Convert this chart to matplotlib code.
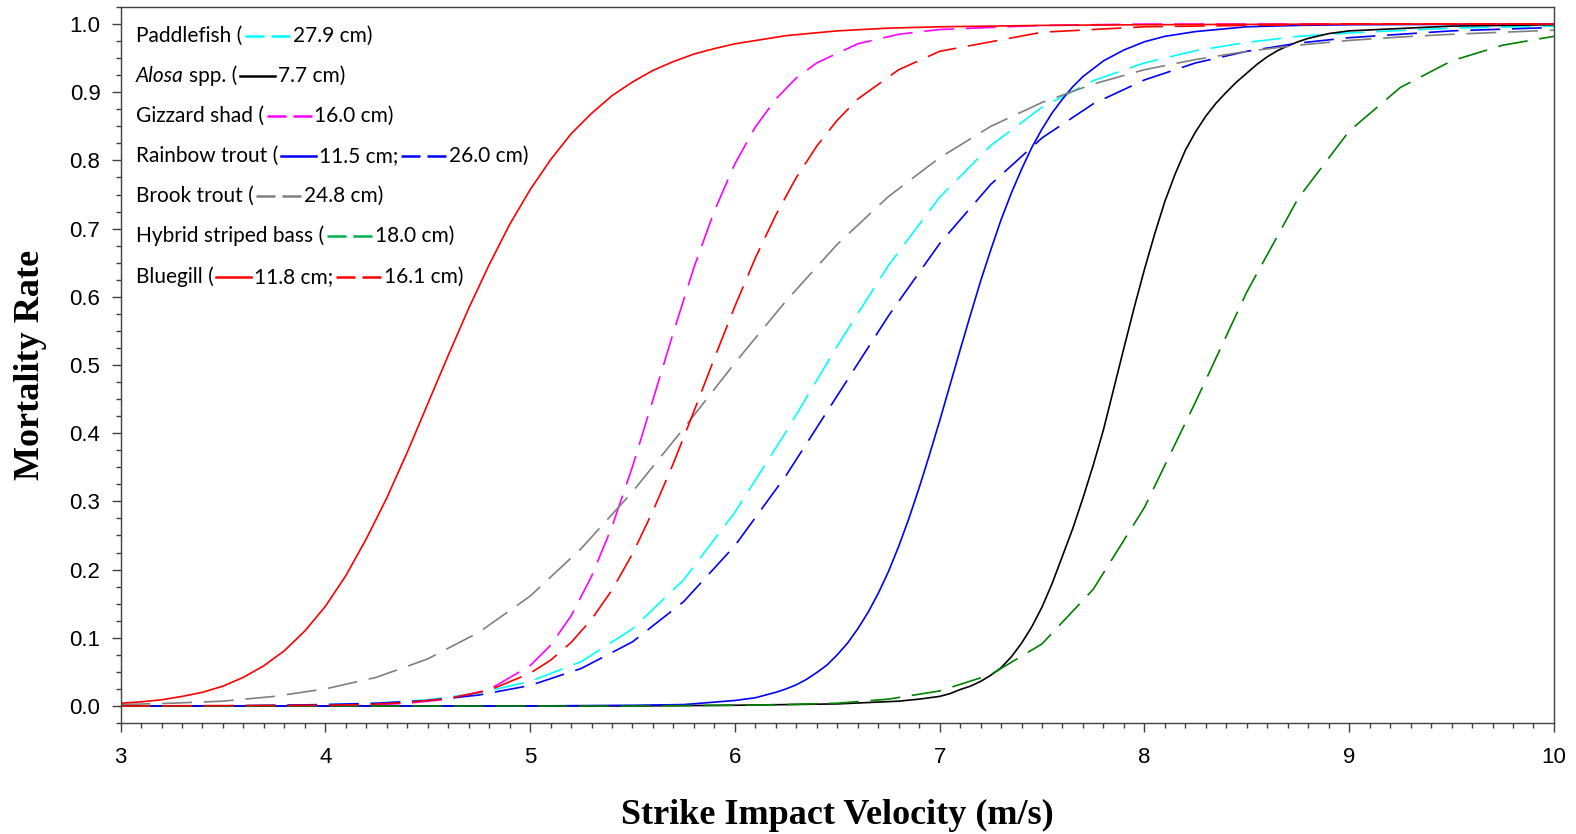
import matplotlib.pyplot as plt
from matplotlib.ticker import MultipleLocator, FormatStrFormatter
from matplotlib.offsetbox import TextArea, DrawingArea, HPacker, VPacker, AnchoredOffsetbox
from matplotlib.lines import Line2D

# values (velocity in m/s, mortality rate)
paddlefish_x = [3.0, 3.5, 4.0, 4.25, 4.5, 4.75, 5.0, 5.25, 5.5, 5.75, 6.0, 6.25, 6.5, 6.75, 7.0, 7.25,
                7.5, 7.75, 8.0, 8.25, 8.5, 8.75, 9.0, 9.5, 10.0]
paddlefish_y = [0.000, 0.000, 0.002, 0.004, 0.009, 0.019, 0.036, 0.065, 0.113, 0.185, 0.284, 0.402,
                0.528, 0.646, 0.746, 0.822, 0.878, 0.917, 0.943, 0.961, 0.973, 0.982, 0.987, 0.994, 0.997]

alosa_x = [3.0, 5.5, 6.0, 6.5, 6.8, 6.9, 7.0, 7.05, 7.1, 7.15, 7.2, 7.25, 7.3, 7.35, 7.4, 7.45, 7.5,
           7.55, 7.6, 7.65, 7.7, 7.75, 7.8, 7.85, 7.9, 7.95, 8.0, 8.05, 8.1, 8.15, 8.2, 8.25, 8.3,
           8.35, 8.4, 8.45, 8.5, 8.55, 8.6, 8.65, 8.7, 8.75, 8.8, 8.9, 9.0, 9.5, 10.0]
alosa_y = [0.000, 0.000, 0.001, 0.003, 0.007, 0.010, 0.014, 0.018, 0.024, 0.029, 0.036, 0.045, 0.056,
           0.072, 0.092, 0.116, 0.145, 0.180, 0.220, 0.260, 0.305, 0.353, 0.405, 0.465, 0.525, 0.584,
           0.640, 0.692, 0.740, 0.780, 0.815, 0.842, 0.865, 0.884, 0.900, 0.915, 0.928, 0.941, 0.952,
           0.961, 0.968, 0.974, 0.979, 0.986, 0.990, 0.997, 0.999]

gizzard_x = [3.0, 4.0, 4.2, 4.4, 4.6, 4.8, 5.0, 5.1, 5.2, 5.3, 5.4, 5.5, 5.6, 5.7, 5.8, 5.9, 6.0, 6.1,
             6.2, 6.3, 6.4, 6.6, 6.8, 7.0, 7.5, 8.0, 9.0, 10.0]
gizzard_y = [0.000, 0.000, 0.001, 0.004, 0.010, 0.024, 0.059, 0.089, 0.132, 0.190, 0.263, 0.351, 0.449,
             0.548, 0.643, 0.726, 0.795, 0.849, 0.890, 0.921, 0.943, 0.971, 0.985, 0.992, 0.998, 1.000,
             1.000, 1.000]

rainbow_s_x = [3.0, 4.0, 5.0, 5.5, 5.75, 6.0, 6.05, 6.1, 6.15, 6.2, 6.25, 6.3, 6.35, 6.4, 6.45, 6.5,
               6.55, 6.6, 6.65, 6.7, 6.75, 6.8, 6.85, 6.9, 6.95, 7.0, 7.05, 7.1, 7.15, 7.2, 7.25, 7.3,
               7.35, 7.4, 7.45, 7.5, 7.55, 7.6, 7.65, 7.7, 7.8, 7.9, 8.0, 8.1, 8.25, 8.5, 8.75, 9.0,
               10.0]
rainbow_s_y = [0.000, 0.000, 0.000, 0.001, 0.002, 0.008, 0.010, 0.012, 0.016, 0.020, 0.025, 0.031,
               0.039, 0.049, 0.060, 0.075, 0.092, 0.113, 0.137, 0.165, 0.197, 0.234, 0.275, 0.320,
               0.368, 0.418, 0.470, 0.522, 0.573, 0.623, 0.669, 0.713, 0.752, 0.787, 0.819, 0.846,
               0.870, 0.890, 0.908, 0.923, 0.946, 0.962, 0.974, 0.982, 0.989, 0.996, 0.998, 0.999,
               1.000]

rainbow_d_x = [3.0, 3.5, 4.0, 4.25, 4.5, 4.75, 5.0, 5.25, 5.5, 5.75, 6.0, 6.25, 6.5, 6.75, 7.0, 7.25,
               7.5, 7.75, 8.0, 8.25, 8.5, 8.75, 9.0, 9.5, 10.0]
rainbow_d_y = [0.000, 0.000, 0.002, 0.004, 0.008, 0.016, 0.030, 0.055, 0.094, 0.153, 0.235, 0.338,
               0.455, 0.572, 0.678, 0.765, 0.833, 0.883, 0.918, 0.943, 0.960, 0.972, 0.980, 0.990, 0.995]

brook_x = [3.0, 3.25, 3.5, 3.75, 4.0, 4.25, 4.5, 4.75, 5.0, 5.25, 5.5, 5.75, 6.0, 6.25, 6.5, 6.75,
           7.0, 7.25, 7.5, 7.75, 8.0, 8.25, 8.5, 8.75, 9.0, 9.25, 9.5, 9.75, 10.0]
brook_y = [0.002, 0.004, 0.007, 0.014, 0.025, 0.042, 0.069, 0.108, 0.161, 0.231, 0.314, 0.407, 0.503,
           0.594, 0.677, 0.747, 0.804, 0.850, 0.885, 0.912, 0.933, 0.948, 0.960, 0.969, 0.976, 0.981,
           0.985, 0.988, 0.991]

hybrid_x = [3.0, 5.0, 5.5, 6.0, 6.25, 6.5, 6.75, 7.0, 7.25, 7.5, 7.75, 8.0, 8.25, 8.5, 8.75, 9.0,
            9.25, 9.5, 9.75, 10.0]
hybrid_y = [0.000, 0.000, 0.000, 0.001, 0.002, 0.004, 0.010, 0.022, 0.046, 0.091, 0.171, 0.291, 0.446,
            0.607, 0.744, 0.843, 0.907, 0.946, 0.969, 0.982]

bluegill_s_x = [3.0, 3.1, 3.2, 3.3, 3.4, 3.5, 3.6, 3.7, 3.8, 3.9, 4.0, 4.1, 4.2, 4.3, 4.4, 4.5, 4.6,
                4.7, 4.8, 4.9, 5.0, 5.1, 5.2, 5.3, 5.4, 5.5, 5.6, 5.7, 5.8, 5.9, 6.0, 6.25, 6.5, 6.75,
                7.0, 7.5, 8.0, 9.0, 10.0]
bluegill_s_y = [0.004, 0.006, 0.009, 0.014, 0.020, 0.029, 0.042, 0.059, 0.081, 0.110, 0.146, 0.191,
                0.245, 0.305, 0.372, 0.443, 0.514, 0.583, 0.647, 0.706, 0.757, 0.801, 0.839, 0.869,
                0.895, 0.915, 0.932, 0.945, 0.956, 0.964, 0.971, 0.983, 0.990, 0.994, 0.996, 0.998,
                0.999, 1.000, 1.000]

bluegill_d_x = [3.0, 4.0, 4.2, 4.4, 4.6, 4.8, 5.0, 5.1, 5.2, 5.3, 5.4, 5.5, 5.6, 5.7, 5.8, 5.9, 6.0,
                6.1, 6.2, 6.3, 6.4, 6.5, 6.6, 6.8, 7.0, 7.5, 8.0, 9.0, 10.0]
bluegill_d_y = [0.000, 0.001, 0.002, 0.005, 0.011, 0.023, 0.048, 0.067, 0.093, 0.127, 0.170, 0.223,
                0.286, 0.356, 0.432, 0.510, 0.586, 0.657, 0.720, 0.775, 0.821, 0.859, 0.890, 0.933,
                0.960, 0.988, 0.996, 1.000, 1.000]

plt.rcParams['lines.scale_dashes'] = False
dash = (0, (21.5, 8.5))
axis_col = '#404040'

fig = plt.figure(figsize=(15.76, 8.34), dpi=100)
ax = fig.add_axes([0.0765, 0.1331, 0.9095, 0.8585])

ax.plot(paddlefish_x, paddlefish_y, color='#00FFFF', lw=1.2, linestyle=dash)
ax.plot(alosa_x, alosa_y, color='black', lw=1.2)
ax.plot(gizzard_x, gizzard_y, color='#FF00FF', lw=1.2, linestyle=dash)
ax.plot(rainbow_s_x, rainbow_s_y, color='#0000FF', lw=1.2)
ax.plot(rainbow_d_x, rainbow_d_y, color='#0000FF', lw=1.2, linestyle=dash)
ax.plot(brook_x, brook_y, color='#808080', lw=1.2, linestyle=dash)
ax.plot(hybrid_x, hybrid_y, color='#008000', lw=1.2, linestyle=dash)
ax.plot(bluegill_s_x, bluegill_s_y, color='#FF0000', lw=1.2)
ax.plot(bluegill_d_x, bluegill_d_y, color='#FF0000', lw=1.2, linestyle=dash)

ax.set_xlim(3, 10)
ax.set_ylim(-0.025, 1.025)
ax.xaxis.set_major_locator(MultipleLocator(1))
ax.xaxis.set_minor_locator(MultipleLocator(0.1))
ax.yaxis.set_major_locator(MultipleLocator(0.1))
ax.yaxis.set_minor_locator(MultipleLocator(0.025))
ax.yaxis.set_major_formatter(FormatStrFormatter('%.1f'))
for s in ax.spines.values():
    s.set_color(axis_col)
    s.set_linewidth(1.0)
ax.tick_params(which='both', direction='out', color=axis_col, width=1.0)
ax.tick_params(which='major', length=6.5)
ax.tick_params(which='minor', length=3.8)
ax.tick_params(axis='y', which='major', pad=8)
ax.tick_params(axis='x', which='major', pad=11)
for lab in ax.get_xticklabels() + ax.get_yticklabels():
    lab.set_fontfamily('Liberation Sans')
    lab.set_fontsize(16)

ax.set_xlabel('Strike Impact Velocity (m/s)', fontfamily='Liberation Serif', fontweight='bold',
              fontsize=26, labelpad=22)
ax.set_ylabel('Mortality Rate', fontfamily='Liberation Serif', fontweight='bold',
              fontsize=26, va='center', ha='center')
ax.yaxis.set_label_coords(-0.0625, 0.5)

# legend rows, written out as in the original figure
tp = dict(fontfamily='Lato', fontsize=15, color='black')


def txt(s, **kw):
    props = dict(tp)
    props.update(kw)
    return TextArea(s, textprops=props)


def sample(color, dashed):
    w = 32.4 if dashed else 25.2
    da = DrawingArea(w, 10, 0, 0)
    ls = (0, (13.7, 5.0)) if dashed else '-'
    da.add_artist(Line2D([0, w], [5, 5], color=color, lw=1.8, linestyle=ls))
    return da


alosa_lab = HPacker(children=[txt('Alosa', style='italic'), txt('spp. (')], align='baseline',
                    pad=0, sep=4)
rows = [
    [txt('Paddlefish ('), sample('#00FFFF', True), txt('27.9 cm)')],
    [alosa_lab, sample('black', False), txt('7.7 cm)')],
    [txt('Gizzard shad ('), sample('#FF00FF', True), txt('16.0 cm)')],
    [txt('Rainbow trout ('), sample('#0000FF', False), txt('11.5 cm;'), sample('#0000FF', True),
     txt('26.0 cm)')],
    [txt('Brook trout ('), sample('#808080', True), txt('24.8 cm)')],
    [txt('Hybrid striped bass ('), sample('#00B050', True), txt('18.0 cm)')],
    [txt('Bluegill ('), sample('#FF0000', False), txt('11.8 cm;'), sample('#FF0000', True),
     txt('16.1 cm)')],
]
packed = [HPacker(children=r, align='center', pad=0, sep=2) for r in rows]
box = VPacker(children=packed, align='left', pad=0, sep=14.3)
anchored = AnchoredOffsetbox(loc='upper left', child=box, pad=0, borderpad=0, frameon=False,
                             bbox_to_anchor=(0.0107, 0.9735), bbox_transform=ax.transAxes)
ax.add_artist(anchored)

fig.savefig('out.png', dpi=100)
